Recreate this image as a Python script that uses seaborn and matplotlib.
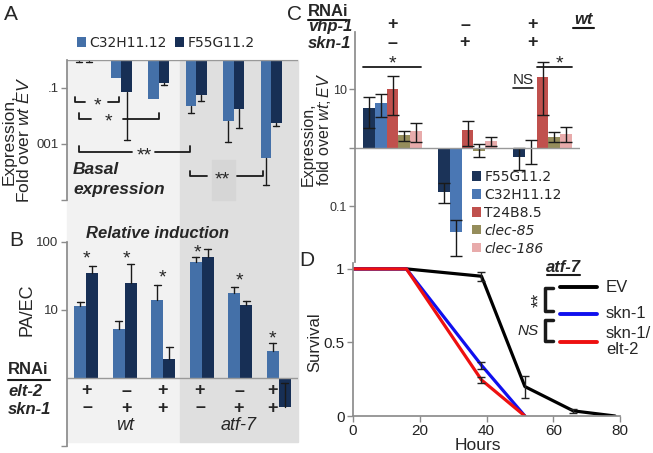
import numpy as np
import pandas as pd
import seaborn as sns
import matplotlib
matplotlib.use('Agg')
import matplotlib.pyplot as plt
from matplotlib.lines import Line2D
from matplotlib.patches import Rectangle

# ---- data ----
cond_labels = ['wt elt-2', 'wt skn-1', 'wt elt-2/skn-1',
               'atf-7 elt-2', 'atf-7 skn-1', 'atf-7 elt-2/skn-1']
elt2_row = ['+', '–', '+', '+', '–', '+']
skn1_row = ['–', '+', '+', '–', '+', '+']
genes_ab = ['C32H11.12', 'F55G11.2']

# A: basal expression, fold over wt EV
a_c32 = [0.93, 0.23, 0.040, 0.023, 0.0066, 0.00032]
a_c32_lo = [0.87, 0.23, 0.040, 0.013, 0.0012, 0.000034]
a_f55 = [0.95, 0.072, 0.15, 0.056, 0.018, 0.0056]
a_f55_lo = [0.88, 0.0014, 0.128, 0.034, 0.0037, 0.0044]

# B: relative induction PA/EC
b_c32 = [11.5, 5.3, 14, 51, 18, 2.5]
b_c32_hi = [13, 6.9, 23, 60, 22, 3.3]
b_f55 = [35, 25, 1.9, 60, 12, 0.37]
b_f55_hi = [44, 48, 2.9, 79, 13.6, 0.85]

# C: fold over wt EV
c_groups = ['vhp-1', 'skn-1', 'vhp-1/skn-1']
c_genes = ['F55G11.2', 'C32H11.12', 'T24B8.5', 'clec-85', 'clec-186']
c_f55 = [4.8, 0.18, 0.70]
c_f55_lo = [2.2, 0.115, 0.42]
c_f55_hi = [7.4, 0.25, 1.0]
c_c32 = [5.9, 0.037, 1.0]
c_c32_lo = [3.4, 0.014, 0.53]
c_c32_hi = [8.4, 0.059, 1.37]
c_t24 = [10.2, 2.0, 16.3]
c_t24_lo = [3.7, 1.1, 3.7]
c_t24_hi = [17, 2.9, 29.5]
c_clec85 = [1.67, 0.9, 1.55]
c_clec85_lo = [1.32, 0.70, 1.27]
c_clec85_hi = [1.97, 1.17, 1.9]
c_clec186 = [1.96, 1.3, 1.73]
c_clec186_lo = [1.27, 1.1, 1.27]
c_clec186_hi = [2.7, 1.55, 2.3]

# D: survival
d_hours_ev = [0, 16, 38.5, 51.5, 66, 78.5]
d_ev = [1, 1, 0.95, 0.20, 0.035, 0]
d_ev_err = [0, 0, 0.03, 0.075, 0.015, 0]
d_hours_skn = [0, 16, 38.5, 51.5]
d_skn = [1, 1, 0.345, 0]
d_skn_err = [0, 0, 0.025, 0]
d_sknelt = [1, 1, 0.245, 0]
d_sknelt_err = [0, 0, 0.02, 0]

c_light = '#4470a8'
c_dark = '#172f55'
c_cols = ['#1b3358', '#4a77b4', '#c0504d', '#958d5b', '#e8abab']
grey = '#8c8c8c'

sns.set_theme(style='white')
plt.rcParams['font.family'] = ['Liberation Sans', 'DejaVu Sans']
plt.rcParams['mathtext.fontset'] = 'custom'
plt.rcParams['mathtext.rm'] = 'Liberation Sans'
plt.rcParams['mathtext.it'] = 'Liberation Sans:italic'
plt.rcParams['mathtext.bf'] = 'Liberation Sans:bold'

W, H = 653, 453
fig = plt.figure(figsize=(W / 100, H / 100), dpi=100)


def add_ax(x0, y0, x1, y1):
    return fig.add_axes([x0 / W, 1 - y1 / H, (x1 - x0) / W, (y1 - y0) / H])


def ft(x, y, s, **kw):
    kw.setdefault('ha', 'center')
    kw.setdefault('va', 'center')
    return fig.text(x / W, 1 - y / H, s, **kw)


def fl(xs, ys, **kw):
    kw.setdefault('color', 'k')
    kw.setdefault('lw', 1.3)
    fig.add_artist(Line2D([x / W for x in xs], [1 - y / H for y in ys],
                          transform=fig.transFigure, **kw))


def star(x, y, s='*', size=14):
    ft(x, y + 0.3 * size * 1.389, s, fontsize=size)


def whisker(ax, x, y0, y1, cap):
    ax.plot([x, x], [y0, y1], color='k', lw=1)
    ax.plot([x - cap, x + cap], [y1, y1], color='k', lw=1)


def style_axis(ax, col=grey):
    for s in ['top', 'right', 'bottom']:
        ax.spines[s].set_visible(False)
    ax.spines['left'].set_color(col)
    ax.tick_params(axis='y', left=True, length=4, width=1, color=col,
                   pad=2, labelsize=9.5, labelcolor='#333333')
    ax.set_xticks([])
    ax.set_xlabel('')
    ax.set_ylabel('')


# background shading for A and B
fig.add_artist(Rectangle((67 / W, 1 - 442 / H), (180 - 67) / W, (442 - 60) / H,
                         transform=fig.transFigure, color='#f2f2f2', zorder=-2))
fig.add_artist(Rectangle((180 / W, 1 - 442 / H), (298 - 180) / W, (442 - 60) / H,
                         transform=fig.transFigure, color='#dfdfdf', zorder=-2))
fig.add_artist(Rectangle((212 / W, 1 - 200 / H), (235 - 212) / W, (200 - 160) / H,
                         transform=fig.transFigure, color='#d6d6d6', zorder=-1))

# ---- panel A ----
axA = add_ax(67, 60, 298, 200)
axA.set_facecolor('none')
dfA = pd.DataFrame({'cond': cond_labels * 2,
                    'gene': [genes_ab[0]] * 6 + [genes_ab[1]] * 6,
                    'val': a_c32 + a_f55})
dfA['logv'] = np.log10(dfA['val'])
sns.barplot(data=dfA, x='cond', y='logv', hue='gene', order=cond_labels,
            hue_order=genes_ab, palette=[c_light, c_dark], width=0.56,
            saturation=1, errorbar=None, legend=False, linewidth=0, ax=axA)
centers = [[b.get_x() + b.get_width() / 2 for b in cont] for cont in axA.containers]
for xs, vals, los in zip(centers, [a_c32, a_f55], [a_c32_lo, a_f55_lo]):
    for x, v, lo in zip(xs, vals, los):
        if lo < v:
            whisker(axA, x, np.log10(v), np.log10(lo), 0.08)
axA.axhline(0, color='#999999', lw=1)
axA.set_xlim(-0.455, 5.72)
axA.set_ylim(-5, 0)
style_axis(axA)
axA.set_yticks([-1, -3, -5])
axA.set_yticklabels(['.1', '001', ''])
axA.legend(handles=axA.containers, labels=genes_ab, ncol=2, frameon=False,
           loc='center left', bbox_to_anchor=(77 / W, 1 - 43 / H),
           bbox_transform=fig.transFigure, borderpad=0, borderaxespad=0,
           handlelength=0.65, handleheight=0.65, handletextpad=0.25,
           columnspacing=0.6, prop={'family': 'DejaVu Sans', 'size': 10})

ft(11, 15, 'A', fontsize=15)
ft(9, 140, 'Expression,', rotation=90, fontsize=12.5)
ft(24, 140, r'Fold over $\it{wt\ EV}$', rotation=90, fontsize=12.5)

fl([75, 75, 85], [97, 102, 102])
fl([108, 119, 119], [102, 102, 97])
star(97, 100)
fl([79, 79, 91], [113, 119, 119])
fl([123, 159, 159], [119, 119, 113])
star(108, 116)
fl([79, 79, 132], [146, 152, 152])
fl([155, 190, 190], [152, 152, 146])
star(144, 150, '**')
fl([190, 190, 207], [171, 176, 176])
fl([237, 263, 263], [176, 176, 171])
star(222, 174, '**')
ft(73, 170, 'Basal', ha='left', fontsize=12.5, fontweight='bold', style='italic')
ft(73, 190, 'expression', ha='left', fontsize=12.5, fontweight='bold', style='italic')

# ---- panel B ----
axB = add_ax(67, 242, 298, 446)
axB.set_facecolor('none')
dfB = pd.DataFrame({'cond': cond_labels * 2,
                    'gene': [genes_ab[0]] * 6 + [genes_ab[1]] * 6,
                    'val': b_c32 + b_f55})
dfB['logv'] = np.log10(dfB['val'])
sns.barplot(data=dfB, x='cond', y='logv', hue='gene', order=cond_labels,
            hue_order=genes_ab, palette=[c_light, c_dark], width=0.62,
            saturation=1, errorbar=None, legend=False, linewidth=0, ax=axB)
centers = [[b.get_x() + b.get_width() / 2 for b in cont] for cont in axB.containers]
for xs, vals, his in zip(centers, [b_c32, b_f55], [b_c32_hi, b_f55_hi]):
    for x, v, hi in zip(xs, vals, his):
        whisker(axB, x, np.log10(v), np.log10(hi), 0.09)
axB.axhline(0, color='#999999', lw=1)
axB.set_xlim(-0.5, 5.5)
axB.set_ylim(-1, 2)
style_axis(axB)
axB.set_yticks([2, 1, -1])
axB.set_yticklabels(['100', '10', ''])

ft(16, 240, 'B', fontsize=15)
ft(157, 234, 'Relative induction', fontsize=12, fontweight='bold', style='italic')
ft(27, 310, 'PA/EC', rotation=90, fontsize=13)
for (x, y) in [(86, 253), (126, 253), (162, 272), (197, 247), (239, 275), (272, 333)]:
    star(x, y, size=14)
ft(8, 370, 'RNAi', ha='left', fontsize=12, fontweight='bold')
fl([8, 50], [380, 380], lw=1.5)
ft(8, 392, 'elt-2', ha='left', fontsize=12, fontweight='bold', style='italic')
ft(8, 409, 'skn-1', ha='left', fontsize=12, fontweight='bold', style='italic')
sign_x = [87, 126, 162, 200, 239, 272]
for x, e, s in zip(sign_x, elt2_row, skn1_row):
    ft(x, 391, e, fontsize=13, fontweight='bold')
    ft(x, 408, s, fontsize=13, fontweight='bold')
ft(125, 426, 'wt', fontsize=13, style='italic')
ft(239, 426, 'atf-7', fontsize=13, style='italic')

# ---- panel C ----
axC = add_ax(355, 32, 580, 262)
dfC = pd.DataFrame({'grp': c_groups * 5,
                    'gene': np.repeat(c_genes, 3),
                    'val': c_f55 + c_c32 + c_t24 + c_clec85 + c_clec186})
dfC['logv'] = np.log10(dfC['val'])
sns.barplot(data=dfC, x='grp', y='logv', hue='gene', order=c_groups,
            hue_order=c_genes, palette=c_cols, width=0.775, saturation=1,
            errorbar=None, legend=False, linewidth=0, ax=axC)
centers = [[b.get_x() + b.get_width() / 2 for b in cont] for cont in axC.containers]
c_vals = [c_f55, c_c32, c_t24, c_clec85, c_clec186]
c_los = [c_f55_lo, c_c32_lo, c_t24_lo, c_clec85_lo, c_clec186_lo]
c_his = [c_f55_hi, c_c32_hi, c_t24_hi, c_clec85_hi, c_clec186_hi]
for xs, vals, los, his in zip(centers, c_vals, c_los, c_his):
    lv = np.log10(vals)
    axC.errorbar(xs, lv, yerr=[lv - np.log10(los), np.log10(his) - lv],
                 fmt='none', ecolor='k', elinewidth=1, capsize=4, capthick=1)
axC.axhline(0, color='#999999', lw=1)
axC.set_xlim(-0.5, 2.5)
axC.set_ylim(-1.949, 1.983)
style_axis(axC)
axC.tick_params(axis='y', labelsize=9)
axC.set_yticks([1, 0, -1])
axC.set_yticklabels(['10', '', '0.1'])
leg = axC.legend(handles=axC.containers, labels=c_genes, frameon=False,
                 loc='upper left', bbox_to_anchor=(472 / W, 1 - 170 / H),
                 bbox_transform=fig.transFigure, borderpad=0, borderaxespad=0,
                 handlelength=0.65, handleheight=0.65, handletextpad=0.25,
                 labelspacing=0.28, prop={'family': 'DejaVu Sans', 'size': 10})
for t in leg.get_texts()[3:]:
    t.set_style('italic')

ft(295, 15, 'C', fontsize=15)
ft(308, 12, 'RNAi', ha='left', fontsize=12, fontweight='bold')
fl([308, 347], [20, 20], lw=1.5)
ft(308, 27, 'vhp-1', ha='left', fontsize=12, fontweight='bold', style='italic')
ft(308, 43, 'skn-1', ha='left', fontsize=12, fontweight='bold', style='italic')
for x, v, s in zip([392, 465, 533], ['+', '–', '+'], ['–', '+', '+']):
    ft(x, 25, v, fontsize=13, fontweight='bold')
    ft(x, 43, s, fontsize=13, fontweight='bold')
ft(583, 20, 'wt', fontsize=12, fontweight='bold', style='italic')
fl([573, 594], [28, 28], lw=1.5)
ft(308, 186, 'Expression,', rotation=90, va='bottom', fontsize=11.5)
ft(324, 186, r'fold over $\it{wt;EV}$', rotation=90, va='bottom', fontsize=11.5)
fl([363, 421], [67, 67])
star(392, 58)
fl([537, 572], [67, 67])
star(559, 58)
ft(523, 80, 'NS', fontsize=11)
fl([513, 533], [88, 88], lw=1.2)

# ---- panel D ----
axD = add_ax(353, 263, 620, 416)
dfD = pd.DataFrame({'hours': d_hours_ev + d_hours_skn + d_hours_skn,
                    'surv': d_ev + d_skn + d_sknelt,
                    'cond': ['EV'] * 6 + ['skn-1'] * 4 + ['skn-1/elt-2'] * 4})
sns.lineplot(data=dfD, x='hours', y='surv', hue='cond',
             palette={'EV': 'black', 'skn-1': '#1010ee', 'skn-1/elt-2': '#ee1010'},
             lw=2.3, legend=False, errorbar=None, ax=axD)
for xs, ys, es in [(d_hours_ev, d_ev, d_ev_err), (d_hours_skn, d_skn, d_skn_err),
                   (d_hours_skn, d_sknelt, d_sknelt_err)]:
    xs, ys, es = np.array(xs), np.array(ys), np.array(es)
    m = es > 0
    axD.errorbar(xs[m], ys[m], yerr=es[m], fmt='none', ecolor='#222222',
                 elinewidth=1, capsize=3, capthick=1)
axD.set_xlim(0, 80)
axD.set_ylim(0, 1.04)
for s in ['top', 'right']:
    axD.spines[s].set_visible(False)
for s in ['left', 'bottom']:
    axD.spines[s].set_color(grey)
axD.set_xticks([0, 20, 40, 60, 80])
axD.set_yticks([0, 0.5, 1])
axD.set_yticklabels(['0', '0.5', '1'])
axD.tick_params(axis='both', length=4, width=1, color=grey, pad=2,
                labelsize=11, labelcolor='#222222', left=True, bottom=True)
axD.set_xlabel('')
axD.set_ylabel('')
ft(478, 446, 'Hours', fontsize=12.5)
ft(307, 261, 'D', fontsize=15)
ft(315, 342, 'Survival', rotation=90, fontsize=12)

ft(563, 267, 'atf-7', fontsize=12, fontweight='bold', style='italic')
fl([547, 580], [275, 275], lw=1.5)
fl([560, 597], [287, 287], lw=2.8, color='black')
fl([560, 597], [314, 314], lw=2.8, color='#1010ee')
fl([560, 597], [342, 342], lw=2.8, color='#ee1010')
ft(606, 287, 'EV', ha='left', fontsize=12)
ft(606, 314, 'skn-1', ha='left', fontsize=12)
ft(606, 334, 'skn-1/', ha='left', fontsize=12)
ft(606, 350, 'elt-2', ha='left', fontsize=12)
fl([553, 545, 545, 553], [288, 288, 311, 311], lw=2.5)
fl([553, 545, 545, 553], [320, 320, 341, 341], lw=2.5)
ft(540, 300, '**', rotation=90, fontsize=13)
ft(528, 331, 'NS', fontsize=11, style='italic')

fig.savefig('out.png', dpi=100)
